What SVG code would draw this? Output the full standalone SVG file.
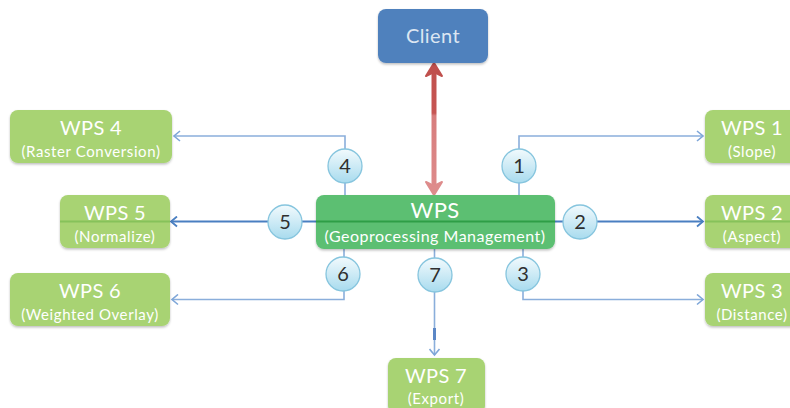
<svg xmlns="http://www.w3.org/2000/svg" width="790" height="408" viewBox="0 0 790 408">
<style>
  text { font-family: Lato, "Open Sans", "Liberation Sans", sans-serif; text-anchor: middle; }
  .leaf { fill: #a8d373; }
  .t1 { fill: #ffffff; font-size: 20px; letter-spacing: 0.3px; }
  .t2 { fill: #ffffff; font-size: 15px; letter-spacing: 0.6px; }
  .conn { fill: none; stroke: #8aaedb; stroke-width: 1.6; }
  .conn2 { fill: none; stroke: #4a7fc1; stroke-width: 2; }
  .num { fill: url(#cg); stroke: #86c5de; stroke-width: 1.3; }
  .nt { fill: #2f2f2f; font-size: 20px; }
</style>
<defs>
  <linearGradient id="cg" x1="0" y1="0" x2="0" y2="1">
    <stop offset="0" stop-color="#f2fafd"/>
    <stop offset="1" stop-color="#a8dbee"/>
  </linearGradient>
  <linearGradient id="rg" gradientUnits="userSpaceOnUse" x1="0" y1="63" x2="0" y2="195">
    <stop offset="0" stop-color="#c0504d"/>
    <stop offset="0.38" stop-color="#c65553"/>
    <stop offset="0.4" stop-color="#d77d7d"/>
    <stop offset="1" stop-color="#de8c8c"/>
  </linearGradient>
  <marker id="ab" markerWidth="10" markerHeight="12" refX="7" refY="6" orient="auto" markerUnits="userSpaceOnUse">
    <path d="M1,1 L7,6 L1,11" fill="none" stroke="#7ea6d8" stroke-width="1.6"/>
  </marker>
  <marker id="ab2" markerWidth="10" markerHeight="12" refX="7" refY="6" orient="auto" markerUnits="userSpaceOnUse">
    <path d="M1,1 L7,6 L1,11" fill="none" stroke="#4a7fc1" stroke-width="1.8"/>
  </marker>
  <filter id="sh" x="-10%" y="-10%" width="120%" height="130%">
    <feDropShadow dx="0" dy="1.5" stdDeviation="1.2" flood-color="#000" flood-opacity="0.25"/>
  </filter>
</defs>

<g id="connectors">
  <!-- 4 -->
  <path class="conn" d="M345,195 V136 H174" marker-end="url(#ab)"/>
  <!-- 1 -->
  <path class="conn" d="M519,195 V136 H703" marker-end="url(#ab)"/>
  <!-- 5 -->
  <path class="conn2" d="M316,221.5 H171" marker-end="url(#ab2)"/>
  <!-- 2 -->
  <path class="conn2" d="M555,221.5 H703" marker-end="url(#ab2)"/>
  <!-- 6 -->
  <path class="conn" d="M344,249 V299.5 H172" marker-end="url(#ab)"/>
  <!-- 3 -->
  <path class="conn" d="M523,249 V299.5 H703" marker-end="url(#ab)"/>
  <!-- 7 -->
  <path class="conn" d="M434.5,249 V355" marker-end="url(#ab)"/>
  <rect x="433" y="328" width="3" height="12" fill="#5b87c6"/>
  <!-- client <-> WPS -->
  <line x1="434" y1="72" x2="434" y2="186" stroke="url(#rg)" stroke-width="5"/>
  <path d="M434,63 L442,76 L434,72 L426,76 Z" fill="#c0504d" stroke="#c0504d" stroke-width="2" stroke-linejoin="round"/>
  <path d="M434,195 L442,182 L434,186 L426,182 Z" fill="#de8c8c" stroke="#de8c8c" stroke-width="2" stroke-linejoin="round"/>
  <!-- numbered circles -->
  <circle class="num" cx="519" cy="166" r="17"/><text class="nt" x="519" y="173">1</text>
  <circle class="num" cx="580" cy="222" r="17"/><text class="nt" x="580" y="229">2</text>
  <circle class="num" cx="523" cy="274" r="17"/><text class="nt" x="523" y="281">3</text>
  <circle class="num" cx="345" cy="166" r="17"/><text class="nt" x="345" y="173">4</text>
  <circle class="num" cx="285" cy="222" r="17"/><text class="nt" x="285" y="229">5</text>
  <circle class="num" cx="343" cy="274" r="17"/><text class="nt" x="343" y="281">6</text>
  <circle class="num" cx="435" cy="275" r="17"/><text class="nt" x="435" y="282">7</text>
</g>

<g id="client">
  <rect x="378" y="9" width="110" height="54" rx="8" fill="#4f81bd" filter="url(#sh)"/>
  <text x="433" y="43" fill="#dce6f2" font-size="20" letter-spacing="0.4">Client</text>
</g>

<g id="wps">
  <rect x="316" y="195" width="239" height="54" rx="8" fill="#5bbf72" filter="url(#sh)"/>
  <line x1="316" y1="221.5" x2="555" y2="221.5" stroke="#2e9e46" stroke-width="2"/>
  <text class="t1" x="435" y="218" style="font-size:22px">WPS</text>
  <text class="t2" x="435" y="242" style="font-size:16px;letter-spacing:0.5px">(Geoprocessing Management)</text>
</g>

<g id="wps1">
  <rect class="leaf" x="705" y="110" width="94" height="53" rx="8" filter="url(#sh)"/>
  <text class="t1" x="752" y="135">WPS 1</text>
  <text class="t2" x="752" y="157">(Slope)</text>
</g>
<g id="wps2">
  <rect class="leaf" x="705" y="195" width="94" height="53" rx="8" filter="url(#sh)"/>
  <line x1="705" y1="221.5" x2="799" y2="221.5" stroke="#86c25a" stroke-width="2"/>
  <text class="t1" x="752" y="220">WPS 2</text>
  <text class="t2" x="752" y="242">(Aspect)</text>
</g>
<g id="wps3">
  <rect class="leaf" x="705" y="273" width="94" height="53" rx="8" filter="url(#sh)"/>
  <text class="t1" x="752" y="298">WPS 3</text>
  <text class="t2" x="752" y="320">(Distance)</text>
</g>
<g id="wps4">
  <rect class="leaf" x="10" y="110" width="162" height="53" rx="8" filter="url(#sh)"/>
  <text class="t1" x="91" y="135">WPS 4</text>
  <text class="t2" x="91" y="157">(Raster Conversion)</text>
</g>
<g id="wps5">
  <rect class="leaf" x="60" y="195" width="110" height="53" rx="8" filter="url(#sh)"/>
  <line x1="60" y1="221.5" x2="170" y2="221.5" stroke="#86c25a" stroke-width="2"/>
  <text class="t1" x="115" y="220">WPS 5</text>
  <text class="t2" x="115" y="242">(Normalize)</text>
</g>
<g id="wps6">
  <rect class="leaf" x="10" y="273" width="160" height="53" rx="8" filter="url(#sh)"/>
  <text class="t1" x="90" y="298">WPS 6</text>
  <text class="t2" x="90" y="320">(Weighted Overlay)</text>
</g>
<g id="wps7">
  <rect class="leaf" x="388" y="358" width="97" height="56" rx="8" filter="url(#sh)"/>
  <text class="t1" x="436" y="383">WPS 7</text>
  <text class="t2" x="436" y="404">(Export)</text>
</g>
</svg>
